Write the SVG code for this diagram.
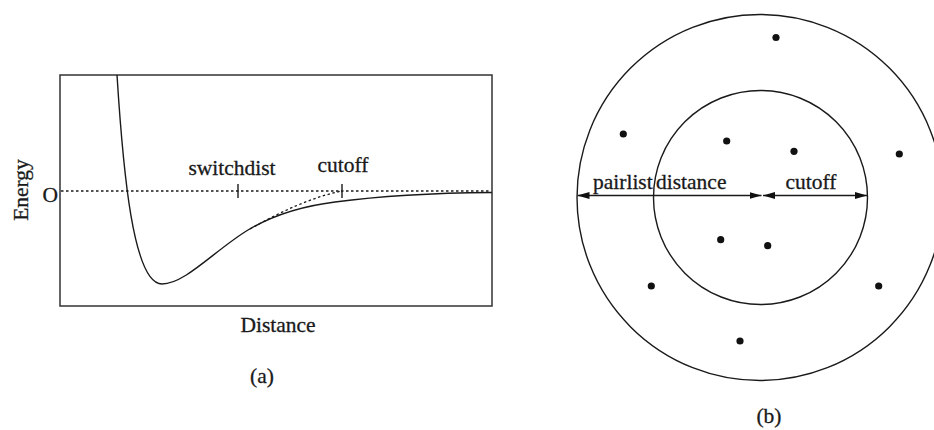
<svg xmlns="http://www.w3.org/2000/svg" width="934" height="430" viewBox="0 0 934 430" font-family="'Liberation Serif', 'Times New Roman', Times, serif">
<style>
  text { font-family: "Liberation Serif", "Times New Roman", Times, serif; font-size: 21.5px; fill: #1a1a1a; stroke: #1a1a1a; stroke-width: 0.3; }
  .ln { fill: none; stroke: #1a1a1a; stroke-width: 1.4; }
  .dot { fill: #111; }
  .dash { fill: none; stroke: #1a1a1a; stroke-width: 1.3; stroke-dasharray: 2.5 2.5; }
</style>
<defs>
  <marker id="ah" markerUnits="userSpaceOnUse" markerWidth="12" markerHeight="8" refX="12" refY="3.5" orient="auto-start-reverse" viewBox="0 0 12 7">
    <path d="M0,0 L12,3.5 L0,7 z" fill="#111"/>
  </marker>
</defs>
<rect width="934" height="430" fill="#fff"/>

<g id="panel-a">
  <rect x="60" y="75" width="432" height="231" fill="none" stroke="#333" stroke-width="1.5"/>
  <line class="dash" x1="61" y1="191" x2="491" y2="191"/>
  <path class="ln" d="M117,75 C123,170 133,284 162,284 C185,284 215,250 248,230 C275,214 303,206 335,202 C380,196 430,193 492,192.5"/>
  <path class="dash" d="M250,229 C280,212 312,197 342,191"/>
  <line class="ln" x1="238" y1="184" x2="238" y2="198"/>
  <line class="ln" x1="342" y1="184" x2="342" y2="198"/>
  <text x="232" y="175" text-anchor="middle">switchdist</text>
  <text x="343" y="172" text-anchor="middle">cutoff</text>
  <text x="58" y="201.5" text-anchor="end">O</text>
  <text transform="translate(28,190) rotate(-90)" text-anchor="middle">Energy</text>
  <text x="278" y="332" text-anchor="middle">Distance</text>
  <text x="262" y="383" text-anchor="middle">(a)</text>
</g>

<g id="panel-b">
  <circle id="outer" class="ln" cx="760" cy="197.5" r="183"/>
  <circle id="inner" class="ln" cx="760.5" cy="197.5" r="107"/>
  <g id="dots">
    <circle class="dot" cx="776" cy="37.5" r="3.6"/>
    <circle class="dot" cx="623.3" cy="134" r="3.6"/>
    <circle class="dot" cx="726.7" cy="141" r="3.6"/>
    <circle class="dot" cx="794" cy="151.3" r="3.6"/>
    <circle class="dot" cx="899.3" cy="154" r="3.6"/>
    <circle class="dot" cx="720.7" cy="239.7" r="3.6"/>
    <circle class="dot" cx="767.7" cy="245.7" r="3.6"/>
    <circle class="dot" cx="651.3" cy="286" r="3.6"/>
    <circle class="dot" cx="878.7" cy="286" r="3.6"/>
    <circle class="dot" cx="740" cy="341" r="3.6"/>
  </g>
  <text x="593" y="189">pairlist</text>
  <text x="656" y="189">distance</text>
  <text x="811" y="189" text-anchor="middle">cutoff</text>
  <text x="769" y="423" text-anchor="middle">(b)</text>
</g>

<g id="connectors">
  <line class="ln" x1="577.5" y1="195.5" x2="761.5" y2="195.5" marker-start="url(#ah)" marker-end="url(#ah)"/>
  <line class="ln" x1="763" y1="195.5" x2="867" y2="195.5" marker-start="url(#ah)" marker-end="url(#ah)"/>
</g>
</svg>
